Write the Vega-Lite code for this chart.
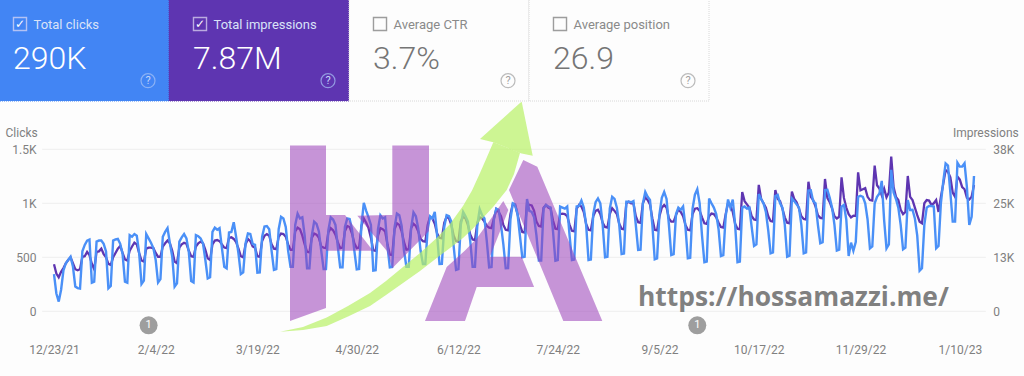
{"$schema":"https://vega.github.io/schema/vega-lite/v6.json","width":1024,"height":376,"autosize":{"type":"none"},"padding":0,"background":"#fdfdfd","config":{"view":{"stroke":null},"font":"Roboto","axis":{"grid":false,"domain":false,"ticks":false,"labelFont":"Roboto","labelFontSize":12,"labelColor":"#808080","titleFont":"Roboto","titleFontSize":12,"titleColor":"#808080","titleFontWeight":"normal"}},
"datasets":{
"cards":[{"metric":"Total clicks","value":"290K","on":true},{"metric":"Total impressions","value":"7.87M","on":true},{"metric":"Average CTR","value":"3.7%","on":false},{"metric":"Average position","value":"26.9","on":false}],
"grid":[{"v":0,"from":"2021-12-18","to":"2023-01-21"},{"v":12500,"from":"2021-12-18","to":"2023-01-21"},{"v":25000,"from":"2021-12-18","to":"2023-01-21"},{"v":37500,"from":"2021-12-18","to":"2023-01-21"}],
"notes":[{"d":"2022-02-01","c":-130,"n":"1"},{"d":"2022-09-21","c":-130,"n":"1"}],
"mark":[
{"p":"hl","x":290,"y":145.5,"y2":321},{"p":"hl","x":326,"y":145.5,"y2":308},
{"p":"c1","x":326,"y":215,"y2":250.7},{"p":"c1","x":345,"y":215,"y2":250.7},{"p":"c1","x":373,"y":250.7,"y2":250.7},
{"p":"hr","x":357.3,"y":215.7,"y2":215.7},{"p":"hr","x":386.7,"y":215,"y2":250.7},{"p":"hr","x":392.3,"y":215,"y2":268.3},{"p":"hr","x":392.3,"y":145.5,"y2":268.3},{"p":"hr","x":429,"y":145.5,"y2":231},
{"p":"a1","x":425,"y":321,"y2":321},{"p":"a1","x":446.7,"y":267,"y2":321},{"p":"a1","x":465,"y":250.5,"y2":321},{"p":"a1","x":476.7,"y":238.5,"y2":287},{"p":"a1","x":490,"y":220,"y2":287},
{"p":"a2","x":490,"y":220,"y2":256.7},{"p":"a2","x":503.3,"y":201,"y2":223},{"p":"a2","x":508.3,"y":210,"y2":210},
{"p":"a3","x":490,"y":256.7,"y2":287},{"p":"a3","x":521.7,"y":256.7,"y2":287},{"p":"a3","x":534,"y":286.7,"y2":287},
{"p":"a4","x":509,"y":190,"y2":190},{"p":"a4","x":523.3,"y":160,"y2":224.5},{"p":"a4","x":537.3,"y":166.7,"y2":258},{"p":"a4","x":563.3,"y":228.4,"y2":321},{"p":"a4","x":602.3,"y":321,"y2":321}],
"arrow":[
{"p":"b","x":280,"y":331.7,"y2":331.7},{"p":"b","x":303,"y":327,"y2":330},{"p":"b","x":326.7,"y":317.5,"y2":326},{"p":"b","x":348,"y":306,"y2":316.5},{"p":"b","x":370,"y":293,"y2":306},{"p":"b","x":386,"y":281,"y2":295},{"p":"b","x":403,"y":267,"y2":283},{"p":"b","x":420,"y":253,"y2":271},{"p":"b","x":436.7,"y":238,"y2":258},{"p":"b","x":450,"y":224,"y2":248},{"p":"b","x":463,"y":206,"y2":238},{"p":"b","x":472,"y":190.5,"y2":229.5},{"p":"b","x":480,"y":173,"y2":221},{"p":"b","x":487,"y":157,"y2":213.5},{"p":"b","x":493.3,"y":142.3,"y2":206.7},{"p":"b","x":506.7,"y":147.6,"y2":190},{"p":"b","x":514,"y":150.5,"y2":174},{"p":"b","x":520,"y":153,"y2":153},
{"p":"h","x":480,"y":139,"y2":139},{"p":"h","x":493.3,"y":127,"y2":142.3},{"p":"h","x":506.7,"y":115,"y2":147.6},{"p":"h","x":520,"y":103,"y2":153},{"p":"h","x":521.7,"y":101.7,"y2":153.5},{"p":"h","x":532.7,"y":155.7,"y2":155.7}],
"site":[{"x":638,"y":306,"t":"https://hossamazzi.me/"}],
"daily":[
{"d":"2021-12-23","c":345,"i":10875},{"d":"2021-12-24","c":165,"i":8750},{"d":"2021-12-25","c":90,"i":7875},{"d":"2021-12-26","c":200,"i":9125},
{"d":"2021-12-27","c":380,"i":10000},{"d":"2021-12-28","c":445,"i":11125},{"d":"2021-12-29","c":475,"i":11875},{"d":"2021-12-30","c":505,"i":12500},{"d":"2021-12-31","c":415,"i":11125},{"d":"2022-01-01","c":230,"i":9750},{"d":"2022-01-02","c":215,"i":9500},
{"d":"2022-01-03","c":210,"i":9750},{"d":"2022-01-04","c":555,"i":12625},{"d":"2022-01-05","c":615,"i":12750},{"d":"2022-01-06","c":655,"i":13750},{"d":"2022-01-07","c":665,"i":13000},{"d":"2022-01-08","c":265,"i":11000},{"d":"2022-01-09","c":275,"i":9750},
{"d":"2022-01-10","c":645,"i":13750},{"d":"2022-01-11","c":655,"i":13875},{"d":"2022-01-12","c":655,"i":14500},{"d":"2022-01-13","c":625,"i":13250},{"d":"2022-01-14","c":555,"i":12500},{"d":"2022-01-15","c":213,"i":11000},{"d":"2022-01-16","c":235,"i":10750},
{"d":"2022-01-17","c":655,"i":12500},{"d":"2022-01-18","c":665,"i":13500},{"d":"2022-01-19","c":670,"i":14500},{"d":"2022-01-20","c":625,"i":15125},{"d":"2022-01-21","c":530,"i":13500},{"d":"2022-01-22","c":275,"i":12000},{"d":"2022-01-23","c":265,"i":11750},
{"d":"2022-01-24","c":705,"i":14000},{"d":"2022-01-25","c":690,"i":15000},{"d":"2022-01-26","c":715,"i":15875},{"d":"2022-01-27","c":700,"i":15500},{"d":"2022-01-28","c":540,"i":13500},{"d":"2022-01-29","c":253,"i":11750},{"d":"2022-01-30","c":284,"i":11500},
{"d":"2022-01-31","c":715,"i":14500},{"d":"2022-02-01","c":675,"i":14750},{"d":"2022-02-02","c":635,"i":14750},{"d":"2022-02-03","c":585,"i":14625},{"d":"2022-02-04","c":475,"i":13500},{"d":"2022-02-05","c":268,"i":12625},{"d":"2022-02-06","c":299,"i":12625},
{"d":"2022-02-07","c":690,"i":15000},{"d":"2022-02-08","c":735,"i":15750},{"d":"2022-02-09","c":770,"i":16375},{"d":"2022-02-10","c":630,"i":15750},{"d":"2022-02-11","c":505,"i":14000},{"d":"2022-02-12","c":228,"i":11500},{"d":"2022-02-13","c":259,"i":11125},
{"d":"2022-02-14","c":645,"i":14750},{"d":"2022-02-15","c":685,"i":15500},{"d":"2022-02-16","c":715,"i":15875},{"d":"2022-02-17","c":675,"i":15625},{"d":"2022-02-18","c":550,"i":14000},{"d":"2022-02-19","c":281,"i":12750},{"d":"2022-02-20","c":268,"i":12625},
{"d":"2022-02-21","c":705,"i":15000},{"d":"2022-02-22","c":695,"i":15750},{"d":"2022-02-23","c":675,"i":16125},{"d":"2022-02-24","c":630,"i":15750},{"d":"2022-02-25","c":475,"i":14250},{"d":"2022-02-26","c":305,"i":12250},{"d":"2022-02-27","c":315,"i":11875},
{"d":"2022-02-28","c":735,"i":15500},{"d":"2022-03-01","c":775,"i":16375},{"d":"2022-03-02","c":755,"i":16500},{"d":"2022-03-03","c":770,"i":16250},{"d":"2022-03-04","c":585,"i":15500},{"d":"2022-03-05","c":413,"i":14750},{"d":"2022-03-06","c":398,"i":14625},
{"d":"2022-03-07","c":730,"i":17000},{"d":"2022-03-08","c":735,"i":17125},{"d":"2022-03-09","c":825,"i":16750},{"d":"2022-03-10","c":690,"i":16000},{"d":"2022-03-11","c":535,"i":14500},{"d":"2022-03-12","c":345,"i":12750},{"d":"2022-03-13","c":361,"i":12500},
{"d":"2022-03-14","c":630,"i":15500},{"d":"2022-03-15","c":720,"i":16750},{"d":"2022-03-16","c":715,"i":16250},{"d":"2022-03-17","c":625,"i":15000},{"d":"2022-03-18","c":615,"i":14750},{"d":"2022-03-19","c":358,"i":12750},{"d":"2022-03-20","c":360,"i":12625},
{"d":"2022-03-21","c":690,"i":16250},{"d":"2022-03-22","c":785,"i":17500},{"d":"2022-03-23","c":790,"i":17875},{"d":"2022-03-24","c":760,"i":17500},{"d":"2022-03-25","c":560,"i":15500},{"d":"2022-03-26","c":383,"i":14500},{"d":"2022-03-27","c":390,"i":14375},
{"d":"2022-03-28","c":760,"i":17250},{"d":"2022-03-29","c":875,"i":18000},{"d":"2022-03-30","c":860,"i":17875},{"d":"2022-03-31","c":780,"i":17250},{"d":"2022-04-01","c":560,"i":15500},{"d":"2022-04-02","c":413,"i":14250},{"d":"2022-04-03","c":413,"i":14250},
{"d":"2022-04-04","c":800,"i":18500},{"d":"2022-04-05","c":905,"i":19375},{"d":"2022-04-06","c":860,"i":19000},{"d":"2022-04-07","c":870,"i":17500},{"d":"2022-04-08","c":700,"i":15500},{"d":"2022-04-09","c":398,"i":13750},{"d":"2022-04-10","c":398,"i":13625},
{"d":"2022-04-11","c":700,"i":17000},{"d":"2022-04-12","c":830,"i":18000},{"d":"2022-04-13","c":810,"i":17750},{"d":"2022-04-14","c":740,"i":17000},{"d":"2022-04-15","c":560,"i":15000},{"d":"2022-04-16","c":392,"i":14750},{"d":"2022-04-17","c":392,"i":14625},
{"d":"2022-04-18","c":750,"i":18250},{"d":"2022-04-19","c":870,"i":19250},{"d":"2022-04-20","c":850,"i":18750},{"d":"2022-04-21","c":800,"i":17750},{"d":"2022-04-22","c":600,"i":16000},{"d":"2022-04-23","c":407,"i":14625},{"d":"2022-04-24","c":407,"i":14750},
{"d":"2022-04-25","c":780,"i":18500},{"d":"2022-04-26","c":860,"i":19750},{"d":"2022-04-27","c":855,"i":19500},{"d":"2022-04-28","c":760,"i":18000},{"d":"2022-04-29","c":560,"i":15750},{"d":"2022-04-30","c":389,"i":14625},{"d":"2022-05-01","c":392,"i":14750},
{"d":"2022-05-02","c":800,"i":19750},{"d":"2022-05-03","c":1005,"i":21500},{"d":"2022-05-04","c":930,"i":20500},{"d":"2022-05-05","c":870,"i":19250},{"d":"2022-05-06","c":800,"i":17000},{"d":"2022-05-07","c":376,"i":14125},{"d":"2022-05-08","c":380,"i":14000},
{"d":"2022-05-09","c":760,"i":17500},{"d":"2022-05-10","c":890,"i":19250},{"d":"2022-05-11","c":860,"i":19000},{"d":"2022-05-12","c":870,"i":18500},{"d":"2022-05-13","c":600,"i":15500},{"d":"2022-05-14","c":407,"i":13125},{"d":"2022-05-15","c":410,"i":13000},
{"d":"2022-05-16","c":780,"i":19000},{"d":"2022-05-17","c":905,"i":20375},{"d":"2022-05-18","c":890,"i":20000},{"d":"2022-05-19","c":790,"i":18500},{"d":"2022-05-20","c":560,"i":16000},{"d":"2022-05-21","c":413,"i":14250},{"d":"2022-05-22","c":413,"i":14375},
{"d":"2022-05-23","c":770,"i":19250},{"d":"2022-05-24","c":915,"i":20250},{"d":"2022-05-25","c":880,"i":19750},{"d":"2022-05-26","c":770,"i":18500},{"d":"2022-05-27","c":560,"i":16750},{"d":"2022-05-28","c":438,"i":16250},{"d":"2022-05-29","c":438,"i":16125},
{"d":"2022-05-30","c":760,"i":20000},{"d":"2022-05-31","c":880,"i":21875},{"d":"2022-06-01","c":860,"i":21500},{"d":"2022-06-02","c":920,"i":20250},{"d":"2022-06-03","c":700,"i":18000},{"d":"2022-06-04","c":438,"i":17000},{"d":"2022-06-05","c":440,"i":16875},
{"d":"2022-06-06","c":780,"i":20500},{"d":"2022-06-07","c":890,"i":21875},{"d":"2022-06-08","c":880,"i":21500},{"d":"2022-06-09","c":830,"i":20000},{"d":"2022-06-10","c":600,"i":17500},{"d":"2022-06-11","c":383,"i":16250},{"d":"2022-06-12","c":390,"i":16125},
{"d":"2022-06-13","c":800,"i":20750},{"d":"2022-06-14","c":920,"i":21875},{"d":"2022-06-15","c":880,"i":21500},{"d":"2022-06-16","c":830,"i":20000},{"d":"2022-06-17","c":650,"i":17750},{"d":"2022-06-18","c":413,"i":16625},{"d":"2022-06-19","c":413,"i":16500},
{"d":"2022-06-20","c":800,"i":20500},{"d":"2022-06-21","c":945,"i":21750},{"d":"2022-06-22","c":890,"i":21500},{"d":"2022-06-23","c":860,"i":20750},{"d":"2022-06-24","c":650,"i":19750},{"d":"2022-06-25","c":407,"i":19375},{"d":"2022-06-26","c":410,"i":19250},
{"d":"2022-06-27","c":850,"i":21500},{"d":"2022-06-28","c":950,"i":23625},{"d":"2022-06-29","c":940,"i":23000},{"d":"2022-06-30","c":800,"i":22000},{"d":"2022-07-01","c":620,"i":20000},{"d":"2022-07-02","c":398,"i":18875},{"d":"2022-07-03","c":400,"i":18750},
{"d":"2022-07-04","c":850,"i":22500},{"d":"2022-07-05","c":1000,"i":24875},{"d":"2022-07-06","c":990,"i":24500},{"d":"2022-07-07","c":900,"i":22500},{"d":"2022-07-08","c":700,"i":20000},{"d":"2022-07-09","c":500,"i":18375},{"d":"2022-07-10","c":505,"i":18250},
{"d":"2022-07-11","c":1040,"i":25000},{"d":"2022-07-12","c":930,"i":24625},{"d":"2022-07-13","c":920,"i":24500},{"d":"2022-07-14","c":870,"i":23250},{"d":"2022-07-15","c":700,"i":20750},{"d":"2022-07-16","c":469,"i":19750},{"d":"2022-07-17","c":469,"i":19625},
{"d":"2022-07-18","c":950,"i":24000},{"d":"2022-07-19","c":985,"i":24625},{"d":"2022-07-20","c":970,"i":24000},{"d":"2022-07-21","c":960,"i":23750},{"d":"2022-07-22","c":740,"i":21000},{"d":"2022-07-23","c":469,"i":19125},{"d":"2022-07-24","c":475,"i":19000},
{"d":"2022-07-25","c":970,"i":22500},{"d":"2022-07-26","c":960,"i":22625},{"d":"2022-07-27","c":950,"i":22500},{"d":"2022-07-28","c":970,"i":22000},{"d":"2022-07-29","c":700,"i":20000},{"d":"2022-07-30","c":475,"i":18625},{"d":"2022-07-31","c":480,"i":18500},
{"d":"2022-08-01","c":970,"i":23750},{"d":"2022-08-02","c":975,"i":24625},{"d":"2022-08-03","c":1025,"i":24250},{"d":"2022-08-04","c":960,"i":23000},{"d":"2022-08-05","c":800,"i":20250},{"d":"2022-08-06","c":475,"i":18875},{"d":"2022-08-07","c":480,"i":18750},
{"d":"2022-08-08","c":900,"i":22000},{"d":"2022-08-09","c":1010,"i":23250},{"d":"2022-08-10","c":1045,"i":23500},{"d":"2022-08-11","c":1000,"i":22500},{"d":"2022-08-12","c":800,"i":20500},{"d":"2022-08-13","c":500,"i":19500},{"d":"2022-08-14","c":505,"i":19375},
{"d":"2022-08-15","c":950,"i":22500},{"d":"2022-08-16","c":1060,"i":23875},{"d":"2022-08-17","c":1040,"i":23250},{"d":"2022-08-18","c":960,"i":22500},{"d":"2022-08-19","c":800,"i":20250},{"d":"2022-08-20","c":530,"i":19125},{"d":"2022-08-21","c":535,"i":19000},
{"d":"2022-08-22","c":1015,"i":25000},{"d":"2022-08-23","c":1015,"i":25375},{"d":"2022-08-24","c":1010,"i":25000},{"d":"2022-08-25","c":1020,"i":25000},{"d":"2022-08-26","c":800,"i":22000},{"d":"2022-08-27","c":568,"i":20625},{"d":"2022-08-28","c":570,"i":20500},
{"d":"2022-08-29","c":1000,"i":25000},{"d":"2022-08-30","c":1105,"i":26375},{"d":"2022-08-31","c":1060,"i":25750},{"d":"2022-09-01","c":1030,"i":24750},{"d":"2022-09-02","c":800,"i":21500},{"d":"2022-09-03","c":481,"i":18875},{"d":"2022-09-04","c":490,"i":18750},
{"d":"2022-09-05","c":900,"i":22000},{"d":"2022-09-06","c":1050,"i":24000},{"d":"2022-09-07","c":1105,"i":24625},{"d":"2022-09-08","c":1040,"i":24000},{"d":"2022-09-09","c":800,"i":21500},{"d":"2022-09-10","c":521,"i":20750},{"d":"2022-09-11","c":530,"i":20750},
{"d":"2022-09-12","c":900,"i":22250},{"d":"2022-09-13","c":960,"i":23625},{"d":"2022-09-14","c":940,"i":23000},{"d":"2022-09-15","c":970,"i":22000},{"d":"2022-09-16","c":780,"i":20000},{"d":"2022-09-17","c":490,"i":18875},{"d":"2022-09-18","c":495,"i":18750},
{"d":"2022-09-19","c":950,"i":22500},{"d":"2022-09-20","c":1080,"i":23750},{"d":"2022-09-21","c":1130,"i":23875},{"d":"2022-09-22","c":1000,"i":23250},{"d":"2022-09-23","c":700,"i":21750},{"d":"2022-09-24","c":454,"i":20375},{"d":"2022-09-25","c":460,"i":20250},
{"d":"2022-09-26","c":1045,"i":22000},{"d":"2022-09-27","c":1000,"i":22625},{"d":"2022-09-28","c":960,"i":22500},{"d":"2022-09-29","c":900,"i":21750},{"d":"2022-09-30","c":760,"i":20500},{"d":"2022-10-01","c":512,"i":19500},{"d":"2022-10-02","c":520,"i":19375},
{"d":"2022-10-03","c":880,"i":22500},{"d":"2022-10-04","c":1035,"i":25000},{"d":"2022-10-05","c":960,"i":24500},{"d":"2022-10-06","c":1035,"i":23000},{"d":"2022-10-07","c":800,"i":20250},{"d":"2022-10-08","c":454,"i":19125},{"d":"2022-10-09","c":460,"i":19000},
{"d":"2022-10-10","c":960,"i":27625},{"d":"2022-10-11","c":970,"i":25500},{"d":"2022-10-12","c":950,"i":24750},{"d":"2022-10-13","c":960,"i":24000},{"d":"2022-10-14","c":780,"i":22000},{"d":"2022-10-15","c":605,"i":21250},{"d":"2022-10-16","c":620,"i":21125},
{"d":"2022-10-17","c":1086,"i":29250},{"d":"2022-10-18","c":1040,"i":26000},{"d":"2022-10-19","c":1000,"i":25000},{"d":"2022-10-20","c":920,"i":24000},{"d":"2022-10-21","c":750,"i":22000},{"d":"2022-10-22","c":537,"i":20875},{"d":"2022-10-23","c":545,"i":20750},
{"d":"2022-10-24","c":1068,"i":28075},{"d":"2022-10-25","c":1077,"i":26000},{"d":"2022-10-26","c":1000,"i":25500},{"d":"2022-10-27","c":960,"i":23750},{"d":"2022-10-28","c":800,"i":21750},{"d":"2022-10-29","c":506,"i":20500},{"d":"2022-10-30","c":515,"i":20375},
{"d":"2022-10-31","c":1045,"i":27700},{"d":"2022-11-01","c":1020,"i":26000},{"d":"2022-11-02","c":990,"i":25250},{"d":"2022-11-03","c":960,"i":23750},{"d":"2022-11-04","c":800,"i":22000},{"d":"2022-11-05","c":537,"i":21375},{"d":"2022-11-06","c":545,"i":21250},
{"d":"2022-11-07","c":1117,"i":30000},{"d":"2022-11-08","c":1120,"i":26500},{"d":"2022-11-09","c":1020,"i":25750},{"d":"2022-11-10","c":1000,"i":24250},{"d":"2022-11-11","c":800,"i":22250},{"d":"2022-11-12","c":630,"i":21625},{"d":"2022-11-13","c":640,"i":21500},
{"d":"2022-11-14","c":1123,"i":30625},{"d":"2022-11-15","c":1125,"i":26250},{"d":"2022-11-16","c":1050,"i":25250},{"d":"2022-11-17","c":960,"i":23750},{"d":"2022-11-18","c":800,"i":22000},{"d":"2022-11-19","c":562,"i":21500},{"d":"2022-11-20","c":570,"i":21875},
{"d":"2022-11-21","c":970,"i":31000},{"d":"2022-11-22","c":985,"i":26250},{"d":"2022-11-23","c":850,"i":24000},{"d":"2022-11-24","c":512,"i":22500},{"d":"2022-11-25","c":636,"i":21750},{"d":"2022-11-26","c":560,"i":22125},{"d":"2022-11-27","c":640,"i":22050},
{"d":"2022-11-28","c":1060,"i":32175},{"d":"2022-11-29","c":1070,"i":28000},{"d":"2022-11-30","c":1060,"i":28250},{"d":"2022-12-01","c":1000,"i":28500},{"d":"2022-12-02","c":850,"i":26500},{"d":"2022-12-03","c":583,"i":25750},{"d":"2022-12-04","c":600,"i":25625},
{"d":"2022-12-05","c":1000,"i":33725},{"d":"2022-12-06","c":1060,"i":29175},{"d":"2022-12-07","c":1090,"i":28400},{"d":"2022-12-08","c":1207,"i":26850},{"d":"2022-12-09","c":845,"i":28400},{"d":"2022-12-10","c":583,"i":26375},{"d":"2022-12-11","c":620,"i":27500},
{"d":"2022-12-12","c":1310,"i":35800},{"d":"2022-12-13","c":1100,"i":28750},{"d":"2022-12-14","c":1040,"i":26500},{"d":"2022-12-15","c":960,"i":25750},{"d":"2022-12-16","c":800,"i":23500},{"d":"2022-12-17","c":574,"i":22500},{"d":"2022-12-18","c":590,"i":23000},
{"d":"2022-12-19","c":1030,"i":31325},{"d":"2022-12-20","c":938,"i":26500},{"d":"2022-12-21","c":940,"i":25750},{"d":"2022-12-22","c":860,"i":24000},{"d":"2022-12-23","c":700,"i":22250},{"d":"2022-12-24","c":376,"i":20750},{"d":"2022-12-25","c":398,"i":20375},
{"d":"2022-12-26","c":800,"i":25000},{"d":"2022-12-27","c":960,"i":25750},{"d":"2022-12-28","c":975,"i":25625},{"d":"2022-12-29","c":975,"i":24625},{"d":"2022-12-30","c":970,"i":25000},{"d":"2022-12-31","c":583,"i":25750},{"d":"2023-01-01","c":605,"i":23000},
{"d":"2023-01-02","c":1000,"i":26500},{"d":"2023-01-03","c":1200,"i":29500},{"d":"2023-01-04","c":1370,"i":32700},{"d":"2023-01-05","c":1350,"i":32250},{"d":"2023-01-06","c":1100,"i":31000},{"d":"2023-01-07","c":830,"i":27500},{"d":"2023-01-08","c":830,"i":26500},
{"d":"2023-01-09","c":1376,"i":31175},{"d":"2023-01-10","c":1340,"i":30500},{"d":"2023-01-11","c":1340,"i":28750},{"d":"2023-01-12","c":1370,"i":28250},{"d":"2023-01-13","c":1150,"i":26250},{"d":"2023-01-14","c":800,"i":25875},{"d":"2023-01-15","c":876,"i":26500},{"d":"2023-01-16","c":1253,"i":29250}]
},
"layer":[
{"data":{"name":"cards"},"encoding":{"x":{"field":"metric","type":"nominal","bandPosition":0,"axis":null,"sort":null,"scale":{"type":"band","domain":["Total clicks","Total impressions","Average CTR","Average position"],"range":[-11,709],"paddingInner":0,"paddingOuter":0}}},
"layer":[
{"mark":{"type":"rect","strokeWidth":1,"strokeDash":[1,1]},"encoding":{"x":{"field":"metric","type":"nominal","axis":null,"sort":null,"scale":{"type":"band","domain":["Total clicks","Total impressions","Average CTR","Average position"],"range":[-11,709],"paddingInner":0,"paddingOuter":0}},"y":{"value":-1},"y2":{"value":101},"fill":{"field":"metric","type":"nominal","legend":null,"scale":{"domain":["Total clicks","Total impressions","Average CTR","Average position"],"range":["#4285f4","#5e35b1","#fdfdfd","#fdfdfd"]}},"stroke":{"field":"metric","type":"nominal","legend":null,"scale":{"domain":["Total clicks","Total impressions","Average CTR","Average position"],"range":["#4285f4","#5e35b1","#d8d8d8","#d8d8d8"]}}}},
{"mark":{"type":"point","shape":"square","filled":false,"size":170,"strokeWidth":1.4,"xOffset":31},"encoding":{"y":{"value":24},"color":{"condition":{"test":"datum.on","value":"#e3ddf5"},"value":"#757575"}}},
{"mark":{"type":"text","font":"DejaVu Sans","fontSize":12,"align":"center","baseline":"middle","dx":31},"encoding":{"y":{"value":24},"text":{"condition":{"test":"datum.on","value":"✓"},"value":""},"color":{"value":"#ffffff"}}},
{"mark":{"type":"text","font":"Roboto","fontSize":13,"align":"left","baseline":"alphabetic","dx":44.5},"encoding":{"y":{"value":29},"text":{"field":"metric"},"color":{"condition":{"test":"datum.on","value":"#d9e2f8"},"value":"#8a8a8a"}}},
{"mark":{"type":"text","font":"Roboto","fontWeight":300,"fontSize":32,"align":"left","baseline":"alphabetic","dx":24},"encoding":{"y":{"value":69},"text":{"field":"value"},"color":{"condition":{"test":"datum.on","value":"#ffffff"},"value":"#757575"}}},
{"mark":{"type":"point","shape":"circle","filled":false,"size":196,"strokeWidth":1.2,"xOffset":159},"encoding":{"y":{"value":80.7},"color":{"condition":{"test":"datum.on","value":"#a9c4f6"},"value":"#a0a0a0"}}},
{"mark":{"type":"text","font":"Roboto","fontSize":11,"align":"center","baseline":"middle","dx":159},"encoding":{"y":{"value":81},"text":{"value":"?"},"color":{"condition":{"test":"datum.on","value":"#c5d6f8"},"value":"#a0a0a0"}}}
]},
{"layer":[
{"data":{"name":"grid"},"mark":{"type":"rule","color":"#eeeeee","strokeWidth":1},"encoding":{"x":{"field":"from","type":"temporal","axis":null,"scale":{"type":"utc","domain":[{"year":2021,"month":12,"date":23,"utc":true},{"year":2023,"month":1,"date":16,"utc":true}],"range":[54,974],"nice":false}},"x2":{"field":"to"},"y":{"field":"v","type":"quantitative","axis":{"orient":"right","offset":-31.3,"labelPadding":0,"values":[0,12500,25000,37500],"labelExpr":"datum.value==0?'0':ceil(datum.value/1000)+'K'","title":"Impressions","titleAngle":0,"titleAlign":"right","titleBaseline":"alphabetic","titleX":25.5,"titleY":136},"scale":{"domain":[0,37500],"range":[311.3,149.3],"nice":false,"zero":false}}}},
{"data":{"name":"daily"},"mark":{"type":"line","color":"#5e35b1","strokeWidth":2.3},"encoding":{"x":{"field":"d","type":"temporal"},"y":{"field":"i","type":"quantitative"}}}
]},
{"layer":[
{"data":{"name":"daily"},"mark":{"type":"line","color":"#4a90f7","strokeWidth":2.4},"encoding":{"x":{"field":"d","type":"temporal","scale":{"type":"utc","domain":[{"year":2021,"month":12,"date":23,"utc":true},{"year":2023,"month":1,"date":16,"utc":true}],"range":[54,974],"nice":false},"axis":{"orient":"bottom","offset":-32,"labelPadding":0,"labelExpr":"utcFormat(datum.value,'%-m/%-d/%y')","labelOverlap":false,"labelBound":false,"labelFlush":false,"title":null,"values":[{"year":2021,"month":12,"date":23,"utc":true},{"year":2022,"month":2,"date":4,"utc":true},{"year":2022,"month":3,"date":19,"utc":true},{"year":2022,"month":4,"date":30,"utc":true},{"year":2022,"month":6,"date":12,"utc":true},{"year":2022,"month":7,"date":24,"utc":true},{"year":2022,"month":9,"date":5,"utc":true},{"year":2022,"month":10,"date":17,"utc":true},{"year":2022,"month":11,"date":29,"utc":true},{"year":2023,"month":1,"date":10,"utc":true}]}},"y":{"field":"c","type":"quantitative","scale":{"domain":[0,1500],"range":[311.3,149.3],"nice":false,"zero":false},"axis":{"orient":"left","offset":-36,"labelPadding":0,"values":[0,500,1000,1500],"labelExpr":"datum.value>=1000?(datum.value/1000)+'K':datum.value","title":"Clicks","titleAngle":0,"titleAlign":"left","titleBaseline":"alphabetic","titleX":-31,"titleY":136}}}},
{"data":{"name":"notes"},"mark":{"type":"point","shape":"circle","filled":true,"size":324,"color":"#9e9e9e","opacity":1},"encoding":{"x":{"field":"d","type":"temporal"},"y":{"field":"c","type":"quantitative"}}},
{"data":{"name":"notes"},"mark":{"type":"text","font":"Roboto","fontSize":11,"color":"#ffffff","align":"center","baseline":"middle"},"encoding":{"x":{"field":"d","type":"temporal"},"y":{"field":"c","type":"quantitative"},"text":{"field":"n"}}}
]},
{"layer":[
{"data":{"name":"mark"},"mark":{"type":"area","color":"#993eb8","opacity":0.55,"line":false,"strokeWidth":0},"encoding":{"x":{"field":"x","type":"quantitative","axis":null,"scale":{"domain":[0,1024],"range":[0,1024],"nice":false,"zero":false}},"y":{"field":"y","type":"quantitative","axis":null,"scale":{"domain":[0,376],"range":[0,376],"nice":false,"zero":false}},"y2":{"field":"y2"},"detail":{"field":"p"}}},
{"data":{"name":"arrow"},"mark":{"type":"area","color":"#b8f165","opacity":0.7,"strokeWidth":0},"encoding":{"x":{"field":"x","type":"quantitative"},"y":{"field":"y","type":"quantitative"},"y2":{"field":"y2"},"detail":{"field":"p"}}},
{"data":{"name":"site"},"mark":{"type":"text","font":"Open Sans","fontWeight":"bold","fontSize":26.4,"color":"#808080","align":"left","baseline":"alphabetic"},"encoding":{"x":{"field":"x","type":"quantitative"},"y":{"field":"y","type":"quantitative"},"text":{"field":"t"}}}
]}
],
"resolve":{"scale":{"x":"independent","y":"independent"},"axis":{"x":"independent","y":"independent"}}}
